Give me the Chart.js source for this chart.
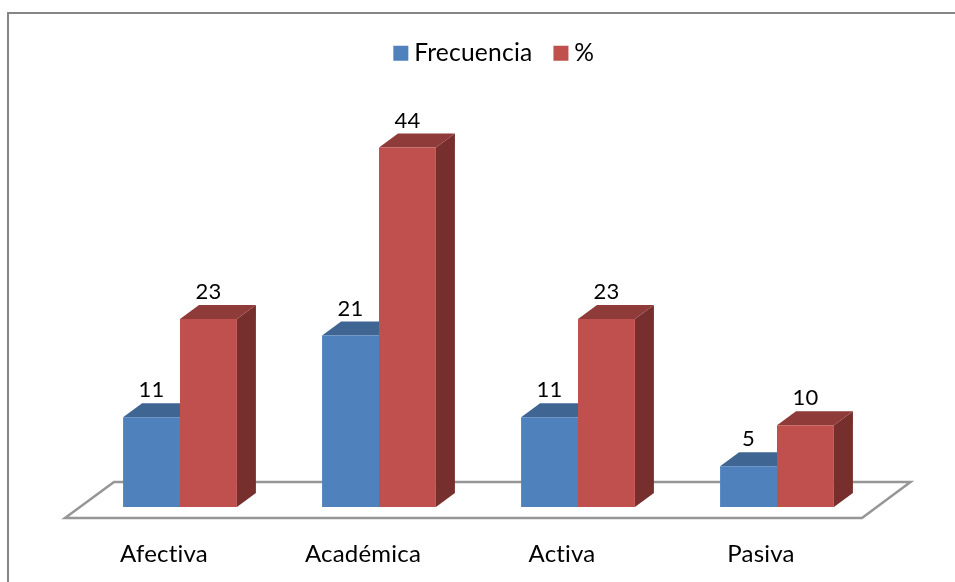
<!DOCTYPE html>
<html>
<head>
<meta charset="utf-8">
<title>Frecuencia</title>
<script src="https://cdn.jsdelivr.net/npm/chart.js@4"></script>
<style>
  html, body { margin: 0; padding: 0; background: #fff; overflow: hidden; }
  canvas { display: block; }
</style>
</head>
<body>
<canvas id="grafico" width="955" height="582"></canvas>
<script>
// datos
const categorias = ['Afectiva', 'Académica', 'Activa', 'Pasiva'];
const frecuencia = [11, 21, 11, 5];
const porcentaje = [23, 44, 23, 10];

const FUENTE = 'Lato';
const DX = 19, DY = 14; // profundidad de las barras

// cara superior y lateral de cada barra, y el suelo
const barras3d = {
  id: 'barras3d',
  beforeLayout(chart) {
    chart.ctx.letterSpacing = '0.2px'; // sin ligaduras "ti"
  },
  afterLayout(chart) {
    // la leyenda original no esta centrada en el lienzo
    chart.legend.left += 18.5;
    chart.legend.right += 18.5;
  },
  beforeDraw(chart) {
    const ctx = chart.ctx;
    ctx.save();
    ctx.strokeStyle = '#868686';
    ctx.lineWidth = 2;
    ctx.beginPath();
    ctx.moveTo(8, 582);
    ctx.lineTo(8, 13);
    ctx.lineTo(955, 13);
    ctx.stroke();
    ctx.restore();
  },
  beforeDatasetsDraw(chart) {
    const ctx = chart.ctx;
    const a = chart.chartArea;
    ctx.save();
    ctx.strokeStyle = '#969696';
    ctx.lineWidth = 2.5;
    ctx.beginPath();
    ctx.moveTo(a.left - 15.5, a.bottom + 11);
    ctx.lineTo(a.right - 14.5, a.bottom + 11);
    ctx.lineTo(a.right + 34, a.bottom - 25);
    ctx.lineTo(a.left + 33.5, a.bottom - 25);
    ctx.closePath();
    ctx.stroke();
    const caras = [['#3F6592', '#38587F'], ['#8E3B39', '#772F2D']];
    chart.data.datasets.forEach((ds, i) => {
      chart.getDatasetMeta(i).data.forEach(b => {
        const izq = b.x - b.width / 2, der = b.x + b.width / 2;
        ctx.fillStyle = caras[i][1];
        ctx.beginPath();
        ctx.moveTo(der, b.y);
        ctx.lineTo(der + DX, b.y - DY);
        ctx.lineTo(der + DX, b.base - DY);
        ctx.lineTo(der, b.base);
        ctx.closePath();
        ctx.fill();
        ctx.fillStyle = caras[i][0];
        ctx.beginPath();
        ctx.moveTo(izq, b.y);
        ctx.lineTo(izq + DX, b.y - DY);
        ctx.lineTo(der + DX, b.y - DY);
        ctx.lineTo(der, b.y);
        ctx.closePath();
        ctx.fill();
      });
    });
    ctx.restore();
  },
  afterDatasetsDraw(chart) {
    const ctx = chart.ctx;
    ctx.save();
    ctx.fillStyle = '#000';
    ctx.font = '22px ' + FUENTE;
    ctx.textAlign = 'center';
    ctx.textBaseline = 'middle';
    chart.data.datasets.forEach((ds, i) => {
      chart.getDatasetMeta(i).data.forEach((b, j) => {
        ctx.fillText(ds.data[j], b.x, b.y - 27);
      });
    });
    ctx.restore();
  }
};

new Chart(document.getElementById('grafico'), {
  type: 'bar',
  data: {
    labels: categorias,
    datasets: [
      { label: 'Frecuencia', data: frecuencia, backgroundColor: '#4F81BD' },
      { label: '%', data: porcentaje, backgroundColor: '#C0504D' }
    ]
  },
  options: {
    responsive: false,
    animation: false,
    layout: { padding: { left: 80.5, right: 78.5, top: 13.5, bottom: 14.4 } },
    categoryPercentage: 0.572,
    barPercentage: 1,
    scales: {
      x: {
        afterFit(scale) { scale.height = 60.6; },
        grid: { display: false, drawTicks: false },
        border: { display: false },
        ticks: { color: '#000', padding: 33, labelOffset: -16, maxRotation: 0, font: { family: FUENTE, size: 24 } }
      },
      y: { display: false, min: 0, max: 52.8 }
    },
    plugins: {
      tooltip: { enabled: false },
      legend: {
        position: 'top',
        labels: {
          color: '#000',
          font: { family: FUENTE, size: 24.6 },
          usePointStyle: true,
          pointStyle: 'rect',
          boxWidth: 2,
          boxHeight: 15,
          padding: 27.5
        }
      }
    }
  },
  plugins: [barras3d]
});
</script>
</body>
</html>
